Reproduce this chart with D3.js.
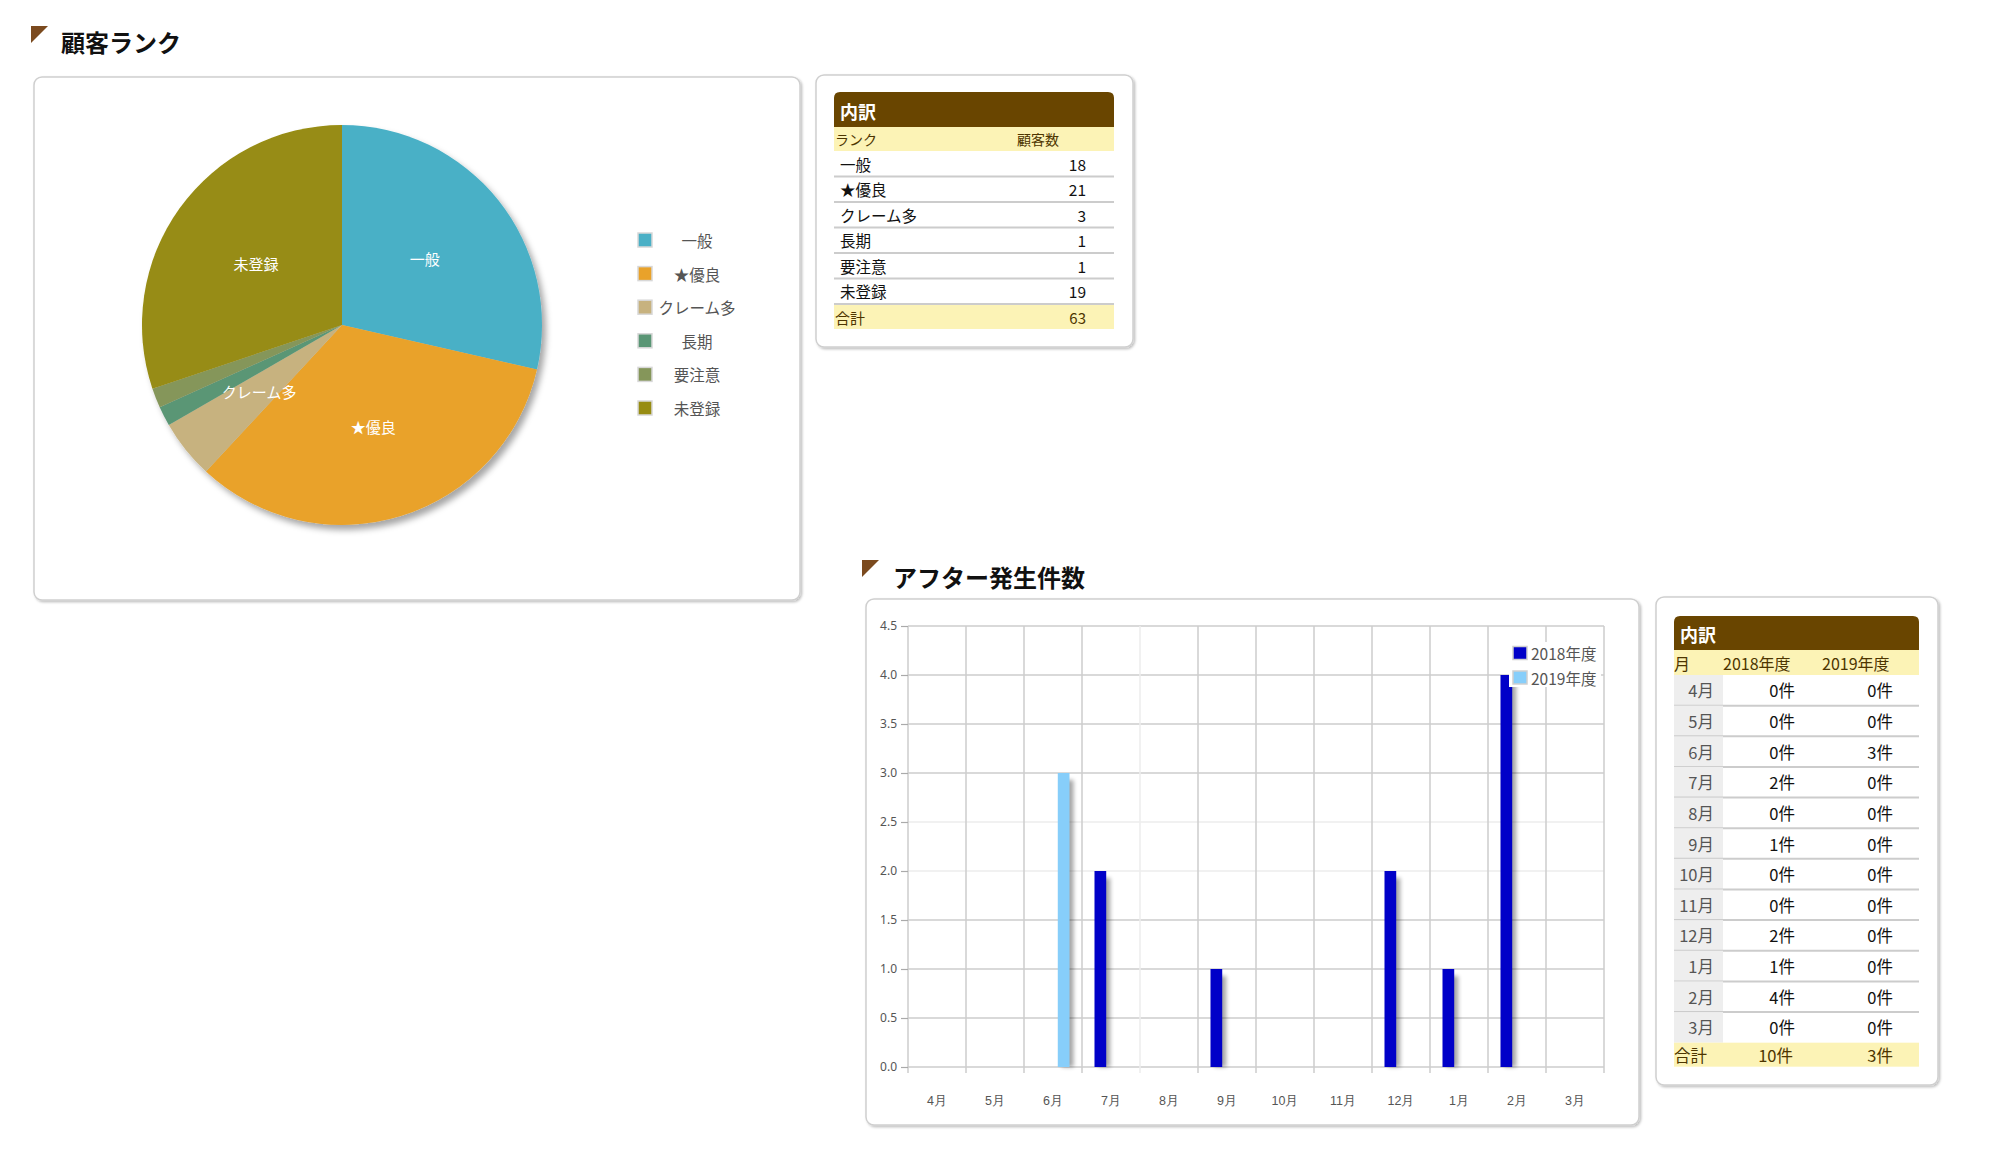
<!DOCTYPE html>
<html><head><meta charset="utf-8">
<script src="https://cdn.jsdelivr.net/npm/d3@7"></script>
<style>
html,body{margin:0;padding:0;background:#fff;}
svg{display:block;font-family:"Noto Sans CJK JP","Noto Sans",sans-serif;}
</style></head>
<body>
<svg id="c" width="2000" height="1167"></svg>
<script>
// ---------- data ----------
const rankLabels = ["一般","★優良","クレーム多","長期","要注意","未登録"];
const rankCounts = [18,21,3,1,1,19];
const rankColors = ["#4ab0c6","#e9a22a","#c7b27f","#5a9675","#85965a","#978c12"];
const rankTotal = 63;

const months = ["4月","5月","6月","7月","8月","9月","10月","11月","12月","1月","2月","3月"];
const seriesNames = ["2018年度","2019年度"];
const fy2018 = [0,0,0,2,0,1,0,0,2,1,4,0];
const fy2019 = [0,0,3,0,0,0,0,0,0,0,0,0];
const seriesColors = ["#0000c8","#87cefa"];
const yTickValues = [0,0.5,1,1.5,2,2.5,3,3.5,4,4.5];
const fyTotals = ["10件","3件"];

const svg = d3.select("#c");
const defs = svg.append("defs");
const boxShadow = defs.append("filter").attr("id","boxsh").attr("x","-5%").attr("y","-5%").attr("width","110%").attr("height","110%");
boxShadow.append("feDropShadow").attr("dx",1.5).attr("dy",1.5).attr("stdDeviation",1).attr("flood-color","#000").attr("flood-opacity",0.25);
const pieShadow = defs.append("filter").attr("id","piesh").attr("x","-10%").attr("y","-10%").attr("width","125%").attr("height","125%");
pieShadow.append("feDropShadow").attr("dx",4).attr("dy",5).attr("stdDeviation",3).attr("flood-color","#000").attr("flood-opacity",0.35);
const barShadow = defs.append("filter").attr("id","barsh").attr("x","-50%").attr("y","-10%").attr("width","250%").attr("height","120%");
barShadow.append("feGaussianBlur").attr("stdDeviation",2);

function panel(x,y,w,h){
  svg.append("rect").attr("x",x).attr("y",y).attr("width",w).attr("height",h)
    .attr("rx",8).attr("fill","#fff").attr("stroke","#cfcfcf").attr("stroke-width",1.5)
    .attr("filter","url(#boxsh)");
}
function title(mx,my,tx,ty,text){
  svg.append("path").attr("d",`M${mx},${my}L${mx+17},${my}L${mx},${my+17}Z`).attr("fill","#7b4a1e");
  svg.append("text").attr("x",tx).attr("y",ty).attr("dominant-baseline","central")
    .attr("font-size",24).attr("font-weight","bold").attr("fill","#111").text(text);
}

// ---------- titles & panels ----------
title(31,26,61,41,"顧客ランク");
title(862,560,893,576,"アフター発生件数");
panel(34,77,766,523);
panel(816,75,317,272);
panel(866,599,773,526);
panel(1656,597,282,488);

// ---------- pie ----------
const cx=342, cy=325, R=200;
const pie = d3.pie().sort(null).value(d=>d)(rankCounts);
const arc = d3.arc().innerRadius(0).outerRadius(R);
const labelArc = d3.arc().innerRadius(106).outerRadius(106);
const pg = svg.append("g").attr("transform",`translate(${cx},${cy})`);
pg.append("g").attr("filter","url(#piesh)").selectAll("path").data(pie).join("path")
  .attr("d",arc).attr("fill",(d,i)=>rankColors[i]);
pg.selectAll("text").data(pie.filter(d=>d.data>=3)).join("text")
  .attr("transform",d=>`translate(${labelArc.centroid(d)})`)
  .attr("text-anchor","middle").attr("dominant-baseline","central")
  .attr("font-size",15).attr("fill","#fff").text(d=>rankLabels[d.index]);

// pie legend
const ly = d3.scalePoint().domain(rankLabels).range([240,408]);
const lg = svg.append("g");
rankLabels.forEach((l,i)=>{
  lg.append("rect").attr("x",638).attr("y",ly(l)-7).attr("width",14).attr("height",14)
    .attr("fill",rankColors[i]).attr("stroke","#d8d8d8").attr("stroke-width",1.5);
  lg.append("text").attr("x",697).attr("y",ly(l)).attr("text-anchor","middle")
    .attr("dominant-baseline","central").attr("font-size",15.5).attr("fill","#555").text(l);
});

// ---------- table 1 ----------
function header(x0,x1,y0,y1){
  const r=6;
  svg.append("path").attr("d",`M${x0},${y1}L${x0},${y0+r}Q${x0},${y0} ${x0+r},${y0}L${x1-r},${y0}Q${x1},${y0} ${x1},${y0+r}L${x1},${y1}Z`).attr("fill","#694500");
  svg.append("text").attr("x",x0+6).attr("y",(y0+y1)/2+1).attr("dominant-baseline","central")
    .attr("font-size",18).attr("font-weight","bold").attr("fill","#fff").text("内訳");
}
const yellow="#fcf3b6", brownText="#4d3500";
{
  const x0=834,x1=1114;
  header(x0,x1,92,127);
  svg.append("rect").attr("x",x0).attr("y",127).attr("width",x1-x0).attr("height",24).attr("fill",yellow);
  svg.append("text").attr("x",835).attr("y",139).attr("dominant-baseline","central").attr("font-size",14).attr("fill",brownText).text("ランク");
  svg.append("text").attr("x",1017).attr("y",139).attr("dominant-baseline","central").attr("font-size",14).attr("fill",brownText).text("顧客数");
  const rh=25.5, ry0=151;
  rankLabels.forEach((l,i)=>{
    const y=ry0+i*rh;
    svg.append("text").attr("x",840).attr("y",y+rh/2).attr("dominant-baseline","central").attr("font-size",15.5).attr("fill","#111").text(l);
    svg.append("text").attr("x",1086).attr("y",y+rh/2).attr("text-anchor","end").attr("dominant-baseline","central").attr("font-size",15.5).attr("fill","#111").text(rankCounts[i]);
    svg.append("line").attr("x1",x0).attr("x2",x1).attr("y1",y+rh).attr("y2",y+rh).attr("stroke","#cccccc").attr("stroke-width",2);
  });
  const ty=ry0+6*rh+1;
  svg.append("rect").attr("x",x0).attr("y",ty).attr("width",x1-x0).attr("height",24).attr("fill",yellow);
  svg.append("text").attr("x",835).attr("y",ty+12).attr("dominant-baseline","central").attr("font-size",15).attr("fill",brownText).text("合計");
  svg.append("text").attr("x",1086).attr("y",ty+12).attr("text-anchor","end").attr("dominant-baseline","central").attr("font-size",15).attr("fill",brownText).text(rankTotal);
}

// ---------- bar chart ----------
const px0=908, px1=1604, py0=626, py1=1067;
const x0 = d3.scaleBand().domain(months).range([px0,px1]);
const x1 = d3.scaleBand().domain(seriesNames).range([-16.5,16.5]).paddingInner(0.45);
const y = d3.scaleLinear().domain([0,4.5]).range([py1,py0]);
const bg = svg.append("g");
// horizontal grid
yTickValues.forEach(v=>{
  bg.append("line").attr("x1",px0).attr("x2",px1).attr("y1",y(v)).attr("y2",y(v))
    .attr("stroke",(v===2||v===2.5)?"#ececec":"#cccccc").attr("stroke-width",1.5);
});
// vertical grid (band boundaries)
months.forEach((m,i)=>{
  const xx=x0(m);
  bg.append("line").attr("x1",xx).attr("x2",xx).attr("y1",py0).attr("y2",py1+6)
    .attr("stroke",i===4?"#ececec":"#cccccc").attr("stroke-width",1.5);
});
bg.append("line").attr("x1",px1).attr("x2",px1).attr("y1",py0).attr("y2",py1+6).attr("stroke","#cccccc").attr("stroke-width",1.5);
// y axis
const yAxis = d3.axisLeft(y).tickValues(yTickValues).tickFormat(d3.format(".1f")).tickSize(7).tickPadding(4);
const ya = svg.append("g").attr("transform",`translate(${px0},0)`).call(yAxis);
ya.select(".domain").remove();
ya.selectAll("line").attr("stroke","#aaa").attr("stroke-width",1.2);
ya.selectAll("text").attr("font-size",12).attr("fill","#555").attr("font-family","\"Noto Sans\",\"Noto Sans CJK JP\",sans-serif");
// x axis labels
const xAxis = d3.axisBottom(x0).tickSize(0).tickPadding(0);
const xa = svg.append("g").attr("transform",`translate(0,${py1+34})`).call(xAxis);
xa.select(".domain").remove();
xa.selectAll("text").attr("font-size",12.5).attr("fill","#555").attr("dy","0.35em");

// bars
const barData = [];
months.forEach((m,i)=>{
  [fy2018[i],fy2019[i]].forEach((v,s)=>{ if(v>0) barData.push({m,s:seriesNames[s],si:s,v}); });
});
const barsG = svg.append("g");
barsG.selectAll("rect.sh").data(barData).join("rect").attr("class","sh")
  .attr("x",d=>x0(d.m)+x0.bandwidth()/2+x1(d.s)+4)
  .attr("y",d=>y(d.v)+7).attr("width",x1.bandwidth()).attr("height",d=>y(0)-y(d.v)-7)
  .attr("fill","#000").attr("opacity",0.35).attr("filter","url(#barsh)");
barsG.selectAll("rect.b").data(barData).join("rect").attr("class","b")
  .attr("x",d=>x0(d.m)+x0.bandwidth()/2+x1(d.s))
  .attr("y",d=>y(d.v)).attr("width",x1.bandwidth()).attr("height",d=>y(0)-y(d.v))
  .attr("fill",d=>seriesColors[d.si]);

// bar legend
const bl = svg.append("g");
bl.append("rect").attr("x",1509).attr("y",642).attr("width",92).attr("height",45).attr("fill","#fff");
seriesNames.forEach((s,i)=>{
  const cyL=653+i*24.5;
  bl.append("rect").attr("x",1513).attr("y",cyL-6.5).attr("width",14).attr("height",13)
    .attr("fill",seriesColors[i]).attr("stroke","#cfcfcf").attr("stroke-width",1.5);
  bl.append("text").attr("x",1531).attr("y",cyL).attr("dominant-baseline","central")
    .attr("font-size",15.5).attr("fill","#555").text(s);
});

// ---------- table 2 ----------
{
  const x0=1674,x1=1919;
  header(x0,x1,616,650);
  svg.append("rect").attr("x",x0).attr("y",650).attr("width",x1-x0).attr("height",25).attr("fill",yellow);
  svg.append("text").attr("x",1674).attr("y",663).attr("dominant-baseline","central").attr("font-size",16).attr("fill",brownText).text("月");
  svg.append("text").attr("x",1723).attr("y",663).attr("dominant-baseline","central").attr("font-size",16).attr("fill",brownText).text(seriesNames[0]);
  svg.append("text").attr("x",1822).attr("y",663).attr("dominant-baseline","central").attr("font-size",16).attr("fill",brownText).text(seriesNames[1]);
  const rh=30.64, ry0=675;
  months.forEach((m,i)=>{
    const yy=ry0+i*rh;
    svg.append("rect").attr("x",x0).attr("y",yy).attr("width",49).attr("height",rh).attr("fill","#eeeeee");
    svg.append("text").attr("x",1714).attr("y",yy+rh/2).attr("text-anchor","end").attr("dominant-baseline","central").attr("font-size",16.5).attr("fill","#555").text(m);
    svg.append("text").attr("x",1795).attr("y",yy+rh/2).attr("text-anchor","end").attr("dominant-baseline","central").attr("font-size",16.5).attr("fill","#111").text(fy2018[i]+"件");
    svg.append("text").attr("x",1893).attr("y",yy+rh/2).attr("text-anchor","end").attr("dominant-baseline","central").attr("font-size",16.5).attr("fill","#111").text(fy2019[i]+"件");
    if(i<months.length-1) svg.append("line").attr("x1",x0).attr("x2",x1).attr("y1",yy+rh).attr("y2",yy+rh).attr("stroke","#cccccc").attr("stroke-width",2);
  });
  const ty=ry0+12*rh;
  svg.append("rect").attr("x",x0).attr("y",ty).attr("width",x1-x0).attr("height",24).attr("fill",yellow);
  svg.append("text").attr("x",1674).attr("y",ty+12).attr("dominant-baseline","central").attr("font-size",16.5).attr("fill",brownText).text("合計");
  svg.append("text").attr("x",1793).attr("y",ty+12).attr("text-anchor","end").attr("dominant-baseline","central").attr("font-size",16.5).attr("fill",brownText).text(fyTotals[0]);
  svg.append("text").attr("x",1893).attr("y",ty+12).attr("text-anchor","end").attr("dominant-baseline","central").attr("font-size",16.5).attr("fill",brownText).text(fyTotals[1]);
}
</script>
</body></html>
